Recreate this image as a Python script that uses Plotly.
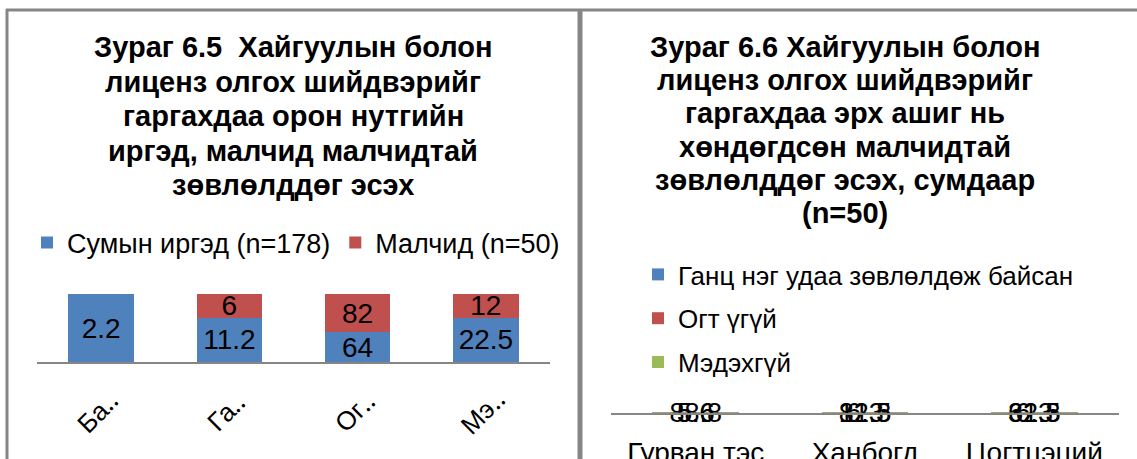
import plotly.graph_objects as go

W, H = 1137, 459

# ---- Left chart data (Зураг 6.5) ----
left_title = ["Зураг 6.5  Хайгуулын болон", "лиценз олгох шийдвэрийг",
              "гаргахдаа орон нутгийн", "иргэд, малчид малчидтай", "зөвлөлддөг эсэх"]
left_cats = ["Ба‥", "Га‥", "Ог‥", "Мэ‥"]
left_series_names = ["Сумын иргэд (n=178)", "Малчид (n=50)"]
left_citizens = [2.2, 11.2, 64, 22.5]
left_herders = [None, 6, 82, 12]

# ---- Right chart data (Зураг 6.6) ----
right_title = ["Зураг 6.6 Хайгуулын болон", "лиценз олгох шийдвэрийг",
               "гаргахдаа эрх ашиг нь", "хөндөгдсөн малчидтай",
               "зөвлөлддөг эсэх, сумдаар", "(n=50)"]
right_cats = ["Гурван тэс", "Ханбогд", "Цогтцэций"]
right_series_names = ["Ганц нэг удаа зөвлөлдөж байсан", "Огт үгүй", "Мэдэхгүй"]
right_once = [5.6, 6.3, 6.3]
right_never = [88.8, 81.3, 62.5]
right_unknown = [5.6, 12.5, 31.3]

BLUE, RED, GREEN = "#4F81BD", "#C0504D", "#9BBB59"
FONT = "Liberation Sans, Arial, sans-serif"
LBL = 28
LEG = 27
TTL = 29

def px(x):
    return x / W

def py(y):
    return 1 - y / H

fig = go.Figure()

def fmt(v):
    return "" if v is None else f"{v:g}"

for name, vals, col in [(left_series_names[0], left_citizens, BLUE),
                        (left_series_names[1], left_herders, RED)]:
    fig.add_trace(go.Bar(
        x=left_cats, y=vals, name=name, marker_color=col, marker_line_width=0,
        text=[fmt(v) for v in vals], textposition="inside", insidetextanchor="middle",
        textangle=0, insidetextfont=dict(color="black", size=LBL, family=FONT),
        xaxis="x", yaxis="y", legend="legend", cliponaxis=False, hoverinfo="skip"))

for i, (name, vals, col) in enumerate([(right_series_names[0], right_once, BLUE),
                                       (right_series_names[1], right_never, RED),
                                       (right_series_names[2], right_unknown, GREEN)]):
    fig.add_trace(go.Bar(
        x=right_cats, y=vals, name=name, marker_color=col, marker_line_width=0,
        text=[fmt(v) for v in vals], textposition="inside", insidetextanchor="middle",
        textangle=0, insidetextfont=dict(color="black", size=LBL - 1, family=FONT),
        xaxis="x2", yaxis="y2", legend="legend2", legendgroup=f"g{i}",
        cliponaxis=False, hoverinfo="skip"))

annotations = []
# titles
for i, line in enumerate(left_title):
    annotations.append(dict(text=f"<b>{line}</b>", x=px(293), y=py(47 + i * 34.5),
                            xref="paper", yref="paper", showarrow=False,
                            xanchor="center", yanchor="middle",
                            font=dict(size=TTL, family=FONT, color="black")))
for i, line in enumerate(right_title):
    annotations.append(dict(text=f"<b>{line}</b>", x=px(845), y=py(47 + i * 33.2),
                            xref="paper", yref="paper", showarrow=False,
                            xanchor="center", yanchor="middle",
                            font=dict(size=TTL, family=FONT, color="black")))
# rotated category labels of left chart
for c in left_cats:
    annotations.append(dict(text=c, x=c, y=0, xref="x", yref="y", showarrow=False,
                            textangle=-45, xanchor="center", yanchor="middle",
                            yshift=-50, xshift=-3,
                            font=dict(size=LBL - 2, family=FONT, color="black")))

GRAY = "#868686"
shapes = [
    dict(type="line", xref="paper", yref="paper", x0=px(6), x1=1, y0=py(10), y1=py(10),
         line=dict(color=GRAY, width=3)),
    dict(type="line", xref="paper", yref="paper", x0=px(7), x1=px(7), y0=py(9), y1=0,
         line=dict(color=GRAY, width=3)),
    dict(type="line", xref="paper", yref="paper", x0=px(580), x1=px(580), y0=py(9), y1=0,
         line=dict(color=GRAY, width=5)),
]

fig.update_layout(
    width=W, height=H, margin=dict(l=0, r=0, t=0, b=0, autoexpand=False),
    paper_bgcolor="white", plot_bgcolor="white",
    barmode="stack", barnorm="percent", bargap=0.49, showlegend=True,
    uniformtext=dict(mode="show", minsize=LBL - 2),
    font=dict(family=FONT, color="black"),
    xaxis=dict(domain=[px(37), px(550)], showticklabels=False, showline=True,
               linecolor=GRAY, linewidth=2, ticks="", showgrid=False, zeroline=False,
               automargin=False),
    yaxis=dict(domain=[py(362), py(294)], range=[0, 100], visible=False, automargin=False),
    xaxis2=dict(domain=[px(611), px(1119)], showline=True, linecolor=GRAY, linewidth=2,
                ticks="", showgrid=False, zeroline=False, ticklabelstandoff=14,
                tickfont=dict(size=LBL, family=FONT, color="black"), anchor="y2",
                automargin=False),
    yaxis2=dict(domain=[py(412.5), py(412)], range=[0, 100], visible=False, anchor="x2",
                automargin=False),
    legend=dict(orientation="h", x=px(296), y=py(243), xanchor="center", yanchor="middle",
                font=dict(size=LEG, family=FONT, color="black"),
                itemwidth=30, bgcolor="rgba(0,0,0,0)", traceorder="normal"),
    legend2=dict(orientation="v", x=px(638), y=py(251), xanchor="left", yanchor="top",
                 font=dict(size=LEG - 1, family=FONT, color="black"),
                 itemwidth=30, tracegroupgap=7, bgcolor="rgba(0,0,0,0)",
                 traceorder="grouped"),
    annotations=annotations, shapes=shapes,
)

fig.write_html("out.html", config={"displayModeBar": False},
               post_script="document.body.style.margin='0';document.body.style.overflow='hidden';")
